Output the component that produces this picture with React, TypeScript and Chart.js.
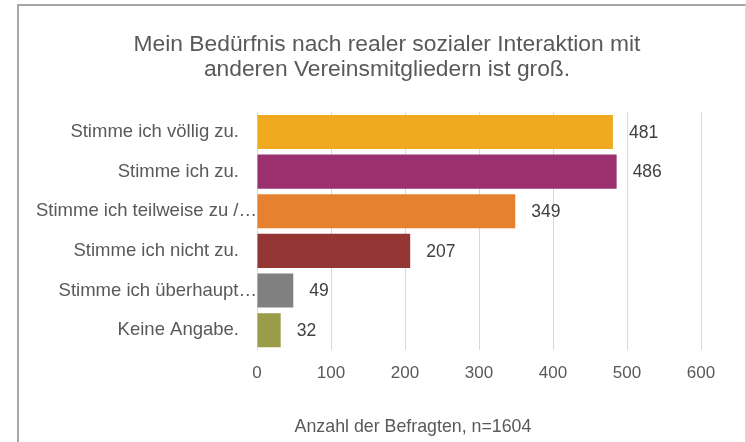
import React, { useEffect, useRef } from "react";
import { Chart, registerables } from "chart.js";

Chart.register(...registerables);

const FONT = '"Liberation Sans", Arial, sans-serif';

const titleLines = [
  "Mein Bedürfnis nach realer sozialer Interaktion mit",
  "anderen Vereinsmitgliedern ist groß.",
];
const categories = [
  "Stimme ich völlig zu.",
  "Stimme ich zu.",
  "Stimme ich teilweise zu /…",
  "Stimme ich nicht zu.",
  "Stimme ich überhaupt…",
  "Keine Angabe.",
];
const values = [481, 486, 349, 207, 49, 32];
const barColors = ["#EFAA20", "#9A306E", "#E6812F", "#943634", "#808080", "#9A9C4A"];
const xMin = 0;
const xMax = 600;
const xStep = 100;
const axisTitle = "Anzahl der Befragten, n=1604";

const labelsPlugin = {
  id: "customLabels",
  afterDraw(chart: any) {
    const ctx = chart.ctx;
    const yScale = chart.scales.y;
    const area = chart.chartArea;
    const meta = chart.getDatasetMeta(0);
    ctx.save();
    ctx.textBaseline = "middle";
    // category labels
    ctx.font = `18.5px ${FONT}`;
    ctx.fillStyle = "#595959";
    ctx.textAlign = "right";
    categories.forEach((c, i) => {
      const py = yScale.getPixelForValue(i);
      const px = c.endsWith("…") ? area.left : area.left - 18;
      ctx.fillText(c, px, py);
    });
    // data labels
    ctx.font = `17.5px ${FONT}`;
    ctx.fillStyle = "#404040";
    ctx.textAlign = "left";
    meta.data.forEach((bar: any, i: number) => {
      ctx.fillText(String(values[i]), bar.x + 16, bar.y + 1);
    });
    // axis title
    ctx.font = `17.8px ${FONT}`;
    ctx.fillStyle = "#595959";
    ctx.textAlign = "center";
    ctx.fillText(axisTitle, area.left + 156, area.bottom + 77);
    ctx.restore();
  },
};

export default function App() {
  const ref = useRef<HTMLCanvasElement | null>(null);

  useEffect(() => {
    if (!ref.current) return;
    const chart = new Chart(ref.current, {
      type: "bar",
      data: {
        labels: categories,
        datasets: [
          {
            data: values,
            backgroundColor: barColors,
            borderWidth: 0,
            categoryPercentage: 1,
            barPercentage: 0.86,
          },
        ],
      },
      options: {
        indexAxis: "y",
        responsive: false,
        animation: false,
        layout: { padding: { left: 54, right: 44, top: 0, bottom: 0 } },
        plugins: {
          legend: { display: false },
          tooltip: { enabled: false },
          title: {
            display: true,
            text: titleLines,
            color: "#595959",
            font: { family: FONT, size: 22.8, weight: "normal", lineHeight: 1.1 },
            padding: { top: 26, bottom: 30 },
          },
        },
        scales: {
          y: {
            type: "category",
            ticks: { display: false },
            grid: { display: false },
            border: { display: false },
            afterFit: (s: any) => {
              s.width = 184;
            },
          },
          x: {
            type: "linear",
            position: "bottom",
            min: xMin,
            max: xMax,
            ticks: {
              stepSize: xStep,
              color: "#595959",
              font: { family: FONT, size: 17 },
              padding: 13,
            },
            grid: { color: "#D9D9D9", lineWidth: 1, drawTicks: false },
            border: { display: false },
            afterFit: (s: any) => {
              s.height = 92;
            },
          },
        },
      },
      plugins: [labelsPlugin],
    } as any);
    return () => chart.destroy();
  }, []);

  return (
    <div
      style={{
        position: "fixed",
        left: 0,
        top: 0,
        width: 746,
        height: 442,
        overflow: "hidden",
        background: "#fff",
      }}
    >
      <div
        style={{
          position: "absolute",
          left: 17,
          top: 4,
          width: 729,
          height: 460,
          borderLeft: "2px solid #A6A6A6",
          borderTop: "2px solid #A6A6A6",
          borderRight: "1px solid #D9D9D9",
          boxSizing: "border-box",
        }}
      >
        <canvas ref={ref} width={726} height={436} style={{ display: "block" }} />
      </div>
    </div>
  );
}
